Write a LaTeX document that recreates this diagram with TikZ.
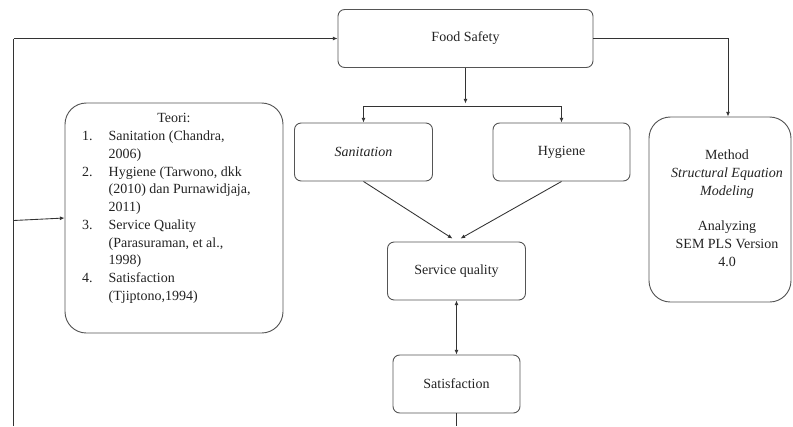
\documentclass[tikz,border=0pt]{standalone}
\usepackage{fontspec}
\setmainfont{Liberation Serif}
\usetikzlibrary{arrows.meta,calc}
\definecolor{lineC}{HTML}{333333}
\definecolor{boxC}{HTML}{555555}
\definecolor{txtC}{HTML}{222222}
\tikzset{
  box/.style={draw=boxC, line width=0.7pt, rounded corners=5pt, text=txtC,
    font=\fontsize{10.5}{13.3}\selectfont, inner sep=0pt, align=center},
  bigbox/.style={box, rounded corners=16pt},
  arr/.style={draw=lineC, line width=0.65pt, -{Latex[length=3.5pt,width=3pt]}},
  dblarr/.style={draw=lineC, line width=0.65pt, {Latex[length=3.5pt,width=3pt]}-{Latex[length=3.5pt,width=3pt]}},
  ln/.style={draw=lineC, line width=0.65pt}
}
\begin{document}
\begin{tikzpicture}[x=0.75pt,y=-0.75pt]
\useasboundingbox (0,0) rectangle (793,426);
\node[box, minimum width=255*0.75pt, minimum height=58*0.75pt] (fs) at (465.5,38.5) {Food Safety};
\node[box, minimum width=138*0.75pt, minimum height=58*0.75pt] (san) at (363.5,152) {\itshape Sanitation};
\node[box, minimum width=137*0.75pt, minimum height=58*0.75pt] (hyg) at (561.5,152) {Hygiene};
\node[box, minimum width=138*0.75pt, minimum height=58*0.75pt] (sq) at (456.5,271) {Service quality};
\node[box, minimum width=127*0.75pt, minimum height=58*0.75pt] (sat) at (456.5,384) {Satisfaction};
\node[bigbox, minimum width=218*0.75pt, minimum height=230*0.75pt] (teori) at (174,218)
{\raisebox{7.5pt}[\height][\depth]{\renewcommand\arraystretch{1}%
\begin{tabular}{@{}p{20pt}@{}p{118pt}@{}}
\multicolumn{2}{c}{Teori:}\\
1. & Sanitation (Chandra,\\
   & 2006)\\
2. & Hygiene (Tarwono, dkk\\
   & (2010) dan Purnawidjaja,\\
   & 2011)\\
3. & Service Quality\\
   & (Parasuraman, et al.,\\
   & 1998)\\
4. & Satisfaction\\
   & (Tjiptono,1994)
\end{tabular}}};
\node[bigbox, minimum width=142*0.75pt, minimum height=185*0.75pt] (meth) at (720,209.5)
{\hspace*{10.5pt}\renewcommand\arraystretch{1}%
\begin{tabular}{@{}c@{}}
Method\\
\itshape Structural Equation\\
\itshape Modeling\\[13.3pt]
Analyzing\\
SEM PLS Version\\
4.0
\end{tabular}};
% coordinates
\coordinate (lt) at (13.5,38.5);
\coordinate (lm) at (13.5,220.5);
\coordinate (lb) at (13.5,426);
\coordinate (split) at (465.5,106.5);
\coordinate (bot) at (456.5,426);
% connectors
\draw[ln] (lb) -- (lt);
\draw[arr] (lt) -- (fs.west);
\draw[arr] (lm) -- (teori.west);
\draw[arr] (fs.south) -- ($(split)+(0,-3)$);
\draw[ln] (split -| san.north) -- (split -| hyg.north);
\draw[arr] (split) -| (san.north);
\draw[arr] (split) -| (hyg.north);
\draw[arr] (fs.east) -| ($(meth.north)+(8,0)$);
\draw[arr] (san.south) -- ($(sq.north)+(-4,-3)$);
\draw[arr] (hyg.south) -- ($(sq.north)+(4,-3)$);
\draw[dblarr] (sq.south) -- (sat.north);
\draw[ln] (sat.south) -- (bot);
\end{tikzpicture}
\end{document}
